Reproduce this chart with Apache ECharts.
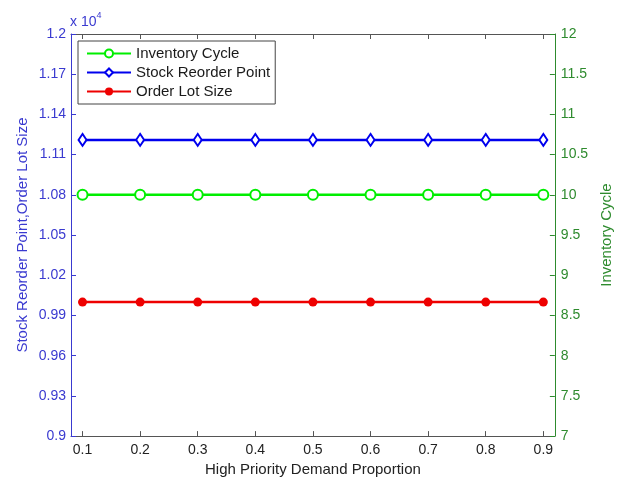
<!DOCTYPE html>
<html>
<head>
<meta charset="utf-8">
<script src="https://cdn.jsdelivr.net/npm/echarts@6/dist/echarts.min.js"></script>
<style>
html,body{margin:0;padding:0;background:#fff;}
#c{width:622px;height:482px;}
</style>
</head>
<body>
<div id="c"></div>
<script>
var proportions = [0.1, 0.2, 0.3, 0.4, 0.5, 0.6, 0.7, 0.8, 0.9];
var inventoryCycle = [10, 10, 10, 10, 10, 10, 10, 10, 10];
var stockReorderPoint = [11210, 11210, 11210, 11210, 11210, 11210, 11210, 11210, 11210];
var orderLotSize = [10000, 10000, 10000, 10000, 10000, 10000, 10000, 10000, 10000];
var xTicks = [0.1, 0.2, 0.3, 0.4, 0.5, 0.6, 0.7, 0.8, 0.9];

function pairs(xs, ys){ return xs.map(function(x,i){ return [x, ys[i]]; }); }

var FONT = 'Liberation Sans, Arial, sans-serif';
var BLUE_AX = '#3a3ad0';
var GREEN_AX = '#2e8b2e';

var chart = echarts.init(document.getElementById('c'));
chart.setOption({
  animation: false,
  backgroundColor: '#fff',
  grid: {left: 71, right: 64, top: 34, bottom: 44},
  legend: {
    orient: 'vertical',
    left: 78, top: 41,
    borderColor: '#444', borderWidth: 1,
    padding: [5, 5, 5, 8],
    itemWidth: 44, itemHeight: 10, itemGap: 4,
    textStyle: {fontFamily: FONT, fontSize: 15, color: '#1a1a1a'},
    data: ['Inventory Cycle', 'Stock Reorder Point', 'Order Lot Size']
  },
  graphic: [{
    type: 'text', left: 70, top: 11,
    style: {
      text: '{a|x 10}{b|4}',
      rich: {
        a: {fontFamily: FONT, fontSize: 14, fill: BLUE_AX, verticalAlign: 'bottom'},
        b: {fontFamily: FONT, fontSize: 9, fill: BLUE_AX, verticalAlign: 'top', padding: [0,0,9,0]}
      }
    }
  }],
  xAxis: [{
    type: 'value', min: 0.08, max: 0.92, position: 'bottom',
    name: 'High Priority Demand Proportion', nameLocation: 'middle', nameGap: 22,
    nameTextStyle: {fontFamily: FONT, fontSize: 15, color: '#222'},
    axisLine: {lineStyle: {color: '#555', width: 1}},
    axisTick: {inside: true, length: 5, customValues: xTicks, lineStyle: {color: '#555'}},
    axisLabel: {customValues: xTicks, fontFamily: FONT, fontSize: 14, color: '#222', margin: 7,
      formatter: function(v){ return String(v); }},
    splitLine: {show: false}
  }, {
    type: 'value', min: 0.08, max: 0.92, position: 'top',
    axisLine: {show: true, lineStyle: {color: '#555', width: 1}},
    axisTick: {inside: true, length: 5, customValues: xTicks, lineStyle: {color: '#555'}},
    axisLabel: {show: false},
    splitLine: {show: false}
  }],
  yAxis: [{
    type: 'value', min: 9000, max: 12000, interval: 300, position: 'left',
    name: 'Stock Reorder Point,Order Lot Size', nameLocation: 'middle', nameGap: 41,
    nameMoveOverlap: false,
    nameTextStyle: {fontFamily: FONT, fontSize: 15, color: BLUE_AX},
    axisLine: {show: true, lineStyle: {color: BLUE_AX, width: 1}},
    axisTick: {show: true, inside: true, length: 5, lineStyle: {color: BLUE_AX}},
    axisLabel: {fontFamily: FONT, fontSize: 14, color: BLUE_AX, margin: 5,
      formatter: function(v){ return String(parseFloat((v/10000).toFixed(2))); }},
    splitLine: {show: false}
  }, {
    type: 'value', min: 7, max: 12, interval: 0.5, position: 'right',
    name: 'Inventory Cycle', nameLocation: 'middle', nameGap: 40, nameRotate: 90,
    nameTextStyle: {fontFamily: FONT, fontSize: 15, color: GREEN_AX},
    axisLine: {show: true, lineStyle: {color: GREEN_AX, width: 1}},
    axisTick: {show: true, inside: true, length: 5, lineStyle: {color: GREEN_AX}},
    axisLabel: {fontFamily: FONT, fontSize: 14, color: GREEN_AX, margin: 6},
    splitLine: {show: false}
  }],
  series: [{
    name: 'Inventory Cycle', type: 'line', xAxisIndex: 0, yAxisIndex: 1,
    data: pairs(proportions, inventoryCycle),
    symbol: 'emptyCircle', symbolSize: 10,
    lineStyle: {color: '#00ee00', width: 2.5},
    itemStyle: {color: '#00ee00', borderColor: '#00ee00', borderWidth: 2}
  }, {
    name: 'Stock Reorder Point', type: 'line', xAxisIndex: 0, yAxisIndex: 0,
    data: pairs(proportions, stockReorderPoint),
    symbol: 'emptyDiamond', symbolSize: [8, 12],
    lineStyle: {color: '#0000ee', width: 2.5},
    itemStyle: {color: '#0000ee', borderColor: '#0000ee', borderWidth: 2}
  }, {
    name: 'Order Lot Size', type: 'line', xAxisIndex: 0, yAxisIndex: 0,
    data: pairs(proportions, orderLotSize),
    symbol: 'circle', symbolSize: 9,
    lineStyle: {color: '#ee0000', width: 2.5},
    itemStyle: {color: '#ee0000'}
  }]
});
</script>
</body>
</html>
